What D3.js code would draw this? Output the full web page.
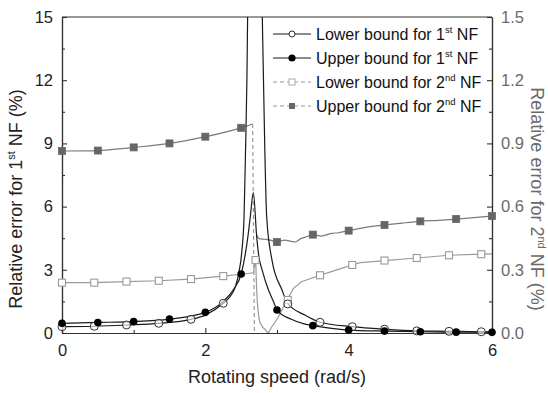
<!DOCTYPE html>
<html><head><meta charset="utf-8">
<script src="https://cdn.jsdelivr.net/npm/d3@7"></script>
<style>
body{margin:0;background:#fff;}
text{font-family:"Liberation Sans",Arial,sans-serif;}
</style></head>
<body><svg id="c" width="548" height="393"></svg>
<script>
// ---------- data ----------
const xTicks = [0, 2, 4, 6];
const leftTicks = [0, 3, 6, 9, 12, 15];
const rightTicks = [0.0, 0.3, 0.6, 0.9, 1.2, 1.5];

// Lower bound for 1st NF (left axis, %)
const lower1Left = [[0,0.30],[0.45,0.32],[0.9,0.38],[1.35,0.46],[1.8,0.65],[2.0,0.85],[2.25,1.41],[2.35,1.75],[2.42,2.2],[2.47,2.9],[2.51,3.9],[2.54,5.5],[2.56,8.5],[2.58,12],[2.59,15],[2.6,18]];
const lower1Right = [[2.78,18],[2.795,15],[2.83,8.69],[2.856,5.52],[2.93,3.46],[3.07,2.04],[3.15,1.4],[3.39,0.85],[3.6,0.51],[4.05,0.3],[4.5,0.18],[4.95,0.1],[5.4,0.08],[5.85,0.06],[6,0.05]];
const lower1Markers = [[0,0.30],[0.45,0.32],[0.9,0.38],[1.35,0.46],[1.8,0.65],[2.25,1.41],[3.15,1.38],[3.6,0.51],[4.05,0.3],[4.5,0.18],[4.95,0.1],[5.4,0.08],[5.85,0.06]];

// Upper bound for 1st NF (left axis, %)
const upper1Line = [[0,0.46],[0.5,0.5],[1,0.54],[1.5,0.66],[2,0.98],[2.25,1.5],[2.4,2.1],[2.5,2.8],[2.6,4.73],[2.63,5.6],[2.67,6.66],[2.716,4.6],[2.74,3.8],[2.8,2.9],[2.88,2.05],[2.95,1.5],[3.0,1.09],[3.2,0.65],[3.39,0.42],[3.5,0.35],[4.0,0.14],[4.5,0.09],[5.0,0.06],[5.5,0.04],[6.0,0.03]];
const upper1Markers = [[0,0.46],[0.5,0.5],[1,0.54],[1.5,0.66],[2,0.98],[2.5,2.8],[3,1.09],[3.5,0.35],[4,0.14],[4.5,0.09],[5,0.06],[5.5,0.04],[6,0.03]];

// Upper bound for 2nd NF (right axis, %)
const upper2Left = [[0,0.864],[0.5,0.866],[1,0.881],[1.5,0.90],[2,0.932],[2.5,0.974],[2.66,0.992]];
const upper2Drop = [[2.66,0.992],[2.685,0.0]];
const upper2Right = [[2.716,0.465],[2.75,0.448],[2.83,0.445],[2.92,0.44],[3.0,0.432],[3.11,0.441],[3.18,0.436],[3.25,0.432],[3.34,0.449],[3.42,0.458],[3.5,0.467],[3.62,0.46],[3.76,0.473],[3.86,0.476],[4.0,0.486],[4.16,0.497],[4.3,0.505],[4.5,0.513],[4.75,0.522],[5.0,0.53],[5.25,0.535],[5.5,0.541],[5.75,0.548],[6.0,0.555]];
const upper2Markers = [[0,0.864],[0.5,0.866],[1,0.881],[1.5,0.90],[2,0.932],[2.5,0.974],[3,0.432],[3.5,0.467],[4,0.486],[4.5,0.513],[5,0.53],[5.5,0.541],[6,0.555]];

// Lower bound for 2nd NF (right axis, %)
const lower2Line = [[0,0.239],[0.45,0.239],[0.9,0.244],[1.35,0.248],[1.8,0.256],[2.25,0.27],[2.5,0.279],[2.67,0.286],[2.7,0.346],[2.705,0.32],[2.716,0.204],[2.725,0.15],[2.735,0.11],[2.745,0.08],[2.76,0.05],[2.78,0.04],[2.8,0.028],[2.83,0.018],[2.86,0.006],[2.88,0.0],[2.92,0.025],[2.97,0.05],[3.02,0.077],[3.07,0.11],[3.11,0.141],[3.14,0.157],[3.23,0.212],[3.34,0.243],[3.44,0.255],[3.6,0.274],[3.76,0.291],[3.9,0.307],[4.05,0.323],[4.16,0.334],[4.3,0.338],[4.5,0.344],[4.95,0.356],[5.4,0.369],[5.85,0.374],[6,0.376]];
const lower2Markers = [[0,0.239],[0.45,0.239],[0.9,0.244],[1.35,0.248],[1.8,0.256],[2.25,0.27],[2.7,0.346],[3.15,0.157],[3.6,0.274],[4.05,0.323],[4.5,0.344],[4.95,0.356],[5.4,0.369],[5.85,0.374]];

const legendLabels = [["Lower bound for 1","st"," NF"],["Upper bound for 1","st"," NF"],["Lower bound for 2","nd"," NF"],["Upper bound for 2","nd"," NF"]];

// ---------- layout ----------
const L = 62, R = 492, T = 17, B = 333;
const svg = d3.select("#c");
const x = d3.scaleLinear().domain([0, 6]).range([L, R]);
const yL = d3.scaleLinear().domain([0, 15]).range([B, T]);
const yR = d3.scaleLinear().domain([0, 1.5]).range([B, T]);

const axisCol = "#333";
const c1 = "#1a1a1a";
const c2up = "#7a7a7a", c2lo = "#9a9a9a";

svg.append("clipPath").attr("id","clip").append("rect")
  .attr("x", L).attr("y", T).attr("width", R - L).attr("height", B - T);

// axes frame
const gx = svg.append("g").attr("transform", `translate(0,${B})`);
gx.call(d3.axisBottom(x).tickValues(xTicks).tickFormat(d3.format("d")).tickSizeInner(-5).tickSizeOuter(0).tickPadding(12));
gx.call(d3.axisBottom(x).tickValues([1,3,5]).tickFormat("").tickSizeInner(-3).tickSizeOuter(0)).selectAll(".domain").remove();

const gxAll = svg.append("g").attr("transform", `translate(0,${B})`)
  .call(d3.axisBottom(x).tickValues(xTicks).tickFormat(d3.format("d")).tickSizeInner(-5).tickSizeOuter(0).tickPadding(11));
svg.append("g").attr("transform", `translate(0,${B})`)
  .call(d3.axisBottom(x).tickValues([1,3,5]).tickFormat("").tickSizeInner(-3).tickSizeOuter(0));
gx.remove();

const gyl = svg.append("g").attr("transform", `translate(${L},0)`)
  .call(d3.axisLeft(yL).tickValues(leftTicks).tickFormat(d3.format("d")).tickSizeInner(-5).tickSizeOuter(0).tickPadding(9));
svg.append("g").attr("transform", `translate(${L},0)`)
  .call(d3.axisLeft(yL).tickValues([1.5,4.5,7.5,10.5,13.5]).tickFormat("").tickSizeInner(-3).tickSizeOuter(0));

const gyr = svg.append("g").attr("transform", `translate(${R},0)`)
  .call(d3.axisRight(yR).tickValues(rightTicks).tickFormat(d3.format(".1f")).tickSizeInner(-5).tickSizeOuter(0).tickPadding(9));
svg.append("g").attr("transform", `translate(${R},0)`)
  .call(d3.axisRight(yR).tickValues([0.15,0.45,0.75,1.05,1.35]).tickFormat("").tickSizeInner(-3).tickSizeOuter(0));

svg.append("line").attr("x1", L).attr("x2", R).attr("y1", T).attr("y2", T).attr("stroke", axisCol).attr("stroke-width", 1.2);

svg.selectAll(".domain").attr("stroke", axisCol).attr("stroke-width", 1.2);
svg.selectAll(".tick line").attr("stroke", axisCol).attr("stroke-width", 1.1);
svg.selectAll(".tick text").attr("font-size", 16.5).attr("font-family", "Liberation Sans, Arial, sans-serif");
gxAll.selectAll(".tick text").attr("fill", "#222");
gyl.selectAll(".tick text").attr("fill", "#222");
gyr.selectAll(".tick text").attr("fill", "#6a6a6a");

// axis titles
svg.append("text").attr("x", 277).attr("y", 383).attr("text-anchor","middle")
  .attr("font-size", 18).attr("fill","#222").text("Rotating speed (rad/s)");
const tl = svg.append("text").attr("transform","translate(22,199) rotate(-90)").attr("text-anchor","middle")
  .attr("font-size", 18).attr("fill","#222");
tl.append("tspan").text("Relative error for 1");
tl.append("tspan").attr("font-size", 11).attr("dy", -7).text("st");
tl.append("tspan").attr("dy", 7).text(" NF (%)");
const tr = svg.append("text").attr("transform","translate(531,199) rotate(90)").attr("text-anchor","middle")
  .attr("font-size", 18).attr("fill","#6a6a6a");
tr.append("tspan").text("Relative error for 2");
tr.append("tspan").attr("font-size", 11).attr("dy", -7).text("nd");
tr.append("tspan").attr("dy", 7).text(" NF (%)");

// ---------- series ----------
const plot = svg.append("g").attr("clip-path", "url(#clip)");
const lineL = d3.line().x(d => x(d[0])).y(d => yL(d[1])).curve(d3.curveMonotoneX);
const lineR = d3.line().x(d => x(d[0])).y(d => yR(d[1])).curve(d3.curveMonotoneX);
const lineRstraight = d3.line().x(d => x(d[0])).y(d => yR(d[1]));

plot.append("path").attr("d", lineR(upper2Left)).attr("fill","none").attr("stroke", c2up).attr("stroke-width", 1.2);
plot.append("path").attr("d", lineRstraight(upper2Drop)).attr("fill","none").attr("stroke", c2lo).attr("stroke-width", 1.2).attr("stroke-dasharray","4,3");
plot.append("path").attr("d", lineR(upper2Right)).attr("fill","none").attr("stroke", c2up).attr("stroke-width", 1.2);
plot.append("path").attr("d", lineRstraight(lower2Line)).attr("fill","none").attr("stroke", c2lo).attr("stroke-width", 1.2);

plot.append("path").attr("d", lineL(lower1Left)).attr("fill","none").attr("stroke", c1).attr("stroke-width", 1.2);
plot.append("path").attr("d", lineL(lower1Right)).attr("fill","none").attr("stroke", c1).attr("stroke-width", 1.2);
plot.append("path").attr("d", lineL(upper1Line)).attr("fill","none").attr("stroke", c1).attr("stroke-width", 1.2);

// markers
const mk = svg.append("g");
mk.selectAll(".lo2").data(lower2Markers).join("rect")
  .attr("x", d => x(d[0]) - 3.5).attr("y", d => yR(d[1]) - 3.5).attr("width", 7).attr("height", 7)
  .attr("fill", "#fff").attr("stroke", "#999").attr("stroke-width", 1.1);
mk.selectAll(".up2").data(upper2Markers).join("rect")
  .attr("x", d => x(d[0]) - 3.5).attr("y", d => yR(d[1]) - 3.5).attr("width", 7).attr("height", 7)
  .attr("fill", "#666").attr("stroke", "#666").attr("stroke-width", 0.8);
mk.selectAll(".lo1").data(lower1Markers).join("circle")
  .attr("cx", d => x(d[0])).attr("cy", d => yL(d[1])).attr("r", 4)
  .attr("fill", "#fff").attr("fill-opacity", 0.6).attr("stroke", "#333").attr("stroke-width", 1);
mk.selectAll(".up1").data(upper1Markers).join("circle")
  .attr("cx", d => x(d[0])).attr("cy", d => yL(d[1])).attr("r", 3.8)
  .attr("fill", "#000");

// ---------- legend ----------
const lg = svg.append("g");
const rows = [34, 58, 82, 106];
legendLabels.forEach((lab, i) => {
  const yy = rows[i];
  const second = i >= 2;
  lg.append("line").attr("x1", 273).attr("x2", 311).attr("y1", yy).attr("y2", yy)
    .attr("stroke", second ? "#999" : c1).attr("stroke-width", 1.2)
    .attr("stroke-dasharray", second ? "4,3" : null);
  if (i === 0) lg.append("circle").attr("cx", 292).attr("cy", yy).attr("r", 3).attr("fill","#fff").attr("stroke","#333");
  if (i === 1) lg.append("circle").attr("cx", 292).attr("cy", yy).attr("r", 3.6).attr("fill","#000");
  if (i === 2) lg.append("rect").attr("x", 289).attr("y", yy-3).attr("width", 6).attr("height", 6).attr("fill","#fff").attr("stroke","#aaa");
  if (i === 3) lg.append("rect").attr("x", 289).attr("y", yy-3).attr("width", 6).attr("height", 6).attr("fill","#666");
  const t = lg.append("text").attr("x", 316).attr("y", yy + 5.5).attr("font-size", 16).attr("fill", "#111");
  t.append("tspan").text(lab[0]);
  t.append("tspan").attr("font-size", 9.5).attr("dy", -7).text(lab[1]);
  t.append("tspan").attr("dy", 7).text(lab[2]);
});
</script></body></html>
